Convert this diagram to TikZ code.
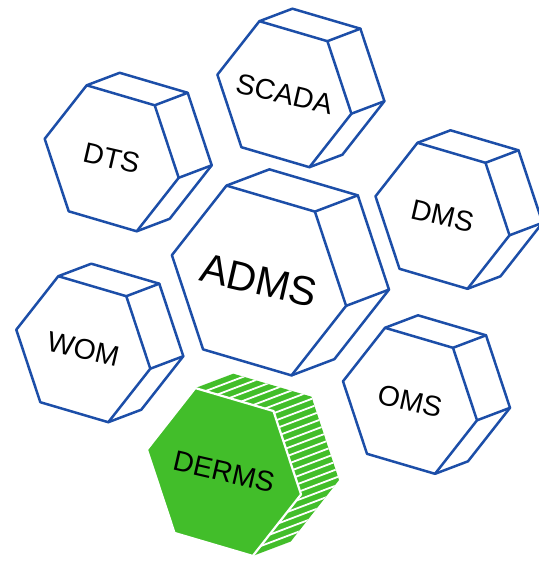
\documentclass[tikz,border=0pt]{standalone}
\usepackage{fontspec}
\setmainfont{Liberation Sans}
\definecolor{hexblue}{RGB}{28,78,168}
\definecolor{hexgreen}{RGB}{66,190,42}
\tikzset{
  prismline/.style={draw=hexblue, line width=2.5pt, line join=round, line cap=round},
  smalllabel/.style={font=\fontsize{28.5}{30}\selectfont, rotate=-13, inner sep=0pt},
  biglabel/.style={font=\fontsize{41}{44}\selectfont, rotate=-13, inner sep=0pt},
}
% base hexagon (screen coords, y down), depth offset (33,-12.5)
\newcommand\hexoutline{(-25,-73) -- (43,-53) -- (67,19.5) -- (25,73) -- (-43,53) -- (-67,-19.5) -- cycle}
\newcommand\hexsilhouette{(-25,-73) -- (8,-85.5) -- (76,-65.5) -- (100,7) -- (58,60.5) -- (25,73) -- (-43,53) -- (-67,-19.5) -- cycle}
\newcommand\blueprism[5]{%
  \begin{scope}[shift={(#1,#2)}, scale=#3]
    \fill[white] \hexsilhouette;
    \draw[prismline] \hexoutline;
    \draw[prismline] (-25,-73) -- (8,-85.5) -- (76,-65.5) -- (100,7) -- (58,60.5) -- (25,73);
    \draw[prismline] (43,-53) -- (76,-65.5);
    \draw[prismline] (67,19.5) -- (100,7);
    \node[#5] (#4) at (0,0) {#4};
  \end{scope}}
\begin{document}
\begin{tikzpicture}[x=1pt, y=-1pt]
\useasboundingbox[fill=white] (0,0) rectangle (538,561);

\blueprism{284.4}{94.2}{1}{SCADA}{smalllabel}
\blueprism{111.7}{158.3}{1}{DTS}{smalllabel}
\blueprism{83.3}{349.2}{1}{WOM}{smalllabel}
\blueprism{442.5}{215.8}{1}{DMS}{smalllabel}
\blueprism{410}{400.8}{1}{OMS}{smalllabel}
\blueprism{259}{280.5}{1.3}{ADMS}{biglabel}

% DERMS (green, hatched sides)
\begin{scope}[shift={(224,472)}, scale=1.15]
  \fill[hexgreen] \hexsilhouette;
  \begin{scope}
    \clip \hexsilhouette;
    \foreach \i in {-18,...,18} {
      \draw[white, line width=1.8pt] ({2.30*\i-140},{6.08*\i+53}) -- ({2.30*\i+140},{6.08*\i-53});
    }
  \end{scope}
  \filldraw[fill=hexgreen, draw=white, line width=2.2pt, line join=round] \hexoutline;
  \node[smalllabel] (DERMS) at (0,0) {DERMS};
\end{scope}
\end{tikzpicture}
\end{document}
